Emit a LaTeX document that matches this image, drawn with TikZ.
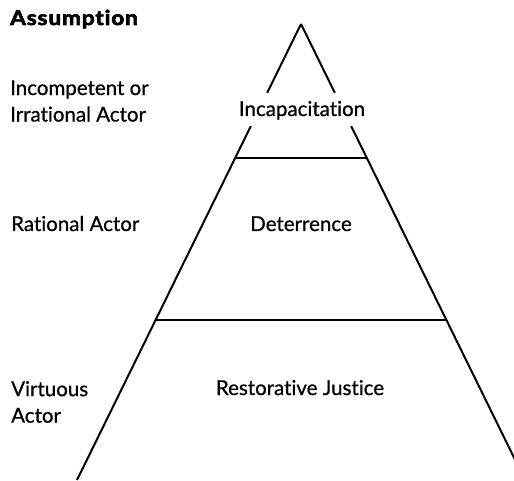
\documentclass[tikz,border=0pt]{standalone}
\usepackage{fontspec}
\setmainfont{Lato}[Ligatures=NoCommon,FakeBold=0.7,BoldFeatures={FakeBold=3}]
\usetikzlibrary{calc}
\begin{document}
\begin{tikzpicture}[x=1pt,y=-1pt,
  edge/.style={line width=2pt,black},
  txt/.style={font=\fontsize{20.5}{26.5}\selectfont,inner sep=0pt},
  lbl/.style={txt,align=left,anchor=west},
  tier/.style={txt,anchor=base}]
\useasboundingbox (0,0) rectangle (514,481);
\clip (0,0) rectangle (514,481);

% pyramid corners
\coordinate (apex) at (301,24);
\coordinate (bl) at (77,480);
\coordinate (br) at (525,480);

% sides, broken around the top label
\draw[edge] (apex) -- ($(apex)!0.151!(bl)$);
\draw[edge] ($(apex)!0.224!(bl)$) -- (bl);
\draw[edge] (apex) -- ($(apex)!0.151!(br)$);
\draw[edge] ($(apex)!0.224!(br)$) -- (br);

% tier dividers
\draw[edge] ($(apex)!0.294!(bl)$) -- ($(apex)!0.294!(br)$);
\draw[edge] ($(apex)!0.649!(bl)$) -- ($(apex)!0.649!(br)$);

% tier names
\node[tier] (incap) at (302,116) {Incapacitation};
\node[tier] (deter) at (301,231) {Deterrence};
\node[tier] (resto) at (300,395) {Restorative Justice};

% assumptions column
\node[lbl,anchor=base west,font=\fontsize{20.5}{26.5}\selectfont\bfseries\addfontfeatures{LetterSpace=4}] (head) at (10,25) {\scalebox{1.1}[1]{Assumption}};
\node[lbl] (incomp) at (10,101) {Incompetent or\\Irrational Actor};
\node[lbl,anchor=base west] (ration) at (11,231) {Rational Actor};
\node[lbl] (virt) at (11,402) {Virtuous\\Actor};
\end{tikzpicture}
\end{document}
